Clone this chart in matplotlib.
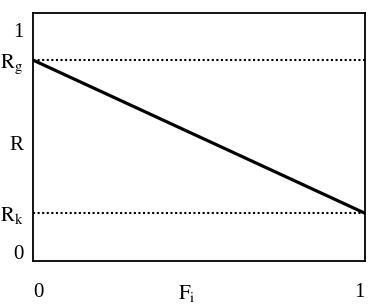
import matplotlib
matplotlib.use('Agg')
import matplotlib.pyplot as plt

# data
F = [0.0, 1.0]
R_g = 0.865
R_k = 0.175
R_line = [R_g, R_k]
ytick_vals = [0.0, R_k, 0.49, R_g, 1.0]
ytick_labels = ['0', r'$\mathrm{R_k}$', 'R', r'$\mathrm{R_g}$', '1']

plt.rcParams['font.family'] = 'Liberation Serif'
plt.rcParams['mathtext.fontset'] = 'stix'

fig = plt.figure(figsize=(3.68, 3.04), dpi=100)
ax = fig.add_axes([33/368, 1 - 261/304, 332/368, 248/304])

ax.axhline(R_g, color='black', lw=1.5, ls=(0, (1, 1.2)))
ax.axhline(R_k, color='black', lw=1.5, ls=(0, (1, 1.2)))
ax.plot(F, R_line, color='black', lw=2.3, solid_capstyle='butt')

ax.set_xlim(0, 1)
ax.set_ylim(-0.04, 1.077)
for s in ax.spines.values():
    s.set_linewidth(1.3)

ax.set_yticks(ytick_vals)
ax.set_yticklabels(ytick_labels, fontsize=15)
ax.set_xticks(F)
xl = ax.set_xticklabels(['0', '1'], fontsize=15)
xl[0].set_ha('left')
xl[1].set_ha('right')
ax.tick_params(length=0, pad=7)
ax.tick_params(axis='x', pad=16)

ax.text(0.464, -0.09, r'$\mathrm{F_i}$', transform=ax.transAxes,
        ha='center', va='top', fontsize=15)

fig.savefig('out.png', dpi=100)
